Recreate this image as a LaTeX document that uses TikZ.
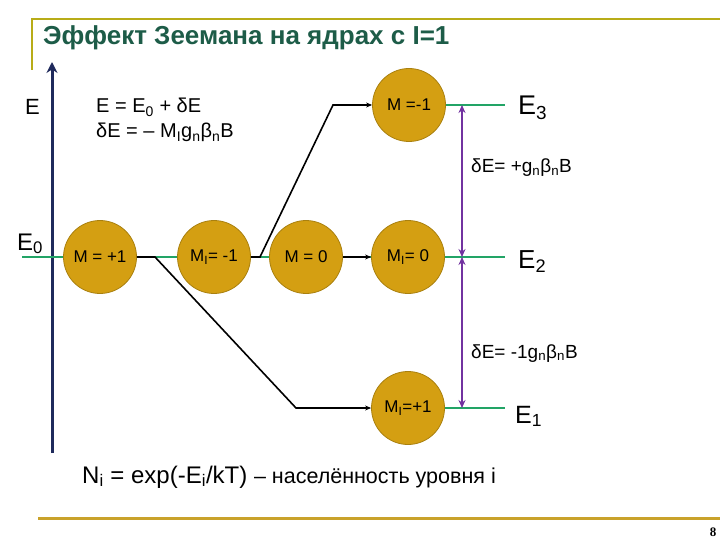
\documentclass[tikz,border=0pt]{standalone}
\usepackage{fontspec}
\setmainfont{Liberation Sans}
\newfontfamily\pgserif{Liberation Serif}
\usetikzlibrary{arrows.meta, positioning, calc}
\definecolor{ttgreen}{HTML}{1D5C48}
\definecolor{frolive}{HTML}{B8AC18}
\definecolor{axnavy}{HTML}{1F2A5C}
\definecolor{lvgreen}{HTML}{22A466}
\definecolor{spgold}{HTML}{D49F12}
\definecolor{spedge}{HTML}{A9800F}
\definecolor{dEpurple}{HTML}{7232A0}
\definecolor{ftgold}{HTML}{C9A22A}

\begin{document}
\begin{tikzpicture}[
  x=1pt, y=-1pt,
  >={Stealth[length=6pt, width=5pt]},
  spin/.style={circle, fill=spgold, draw=spedge, line width=0.8pt,
    minimum size=73pt, inner sep=0pt, font=\fontsize{17}{19}\selectfont},
  level/.style={lvgreen, line width=2.5pt},
  conn/.style={black, line width=1.6pt, ->},
  split/.style={dEpurple, line width=2pt,
    {Stealth[length=8pt, width=7pt]}-{Stealth[length=8pt, width=7pt]}},
  lbl/.style={anchor=base west, inner sep=0pt},
]

% Page: 720 x 540, y runs downward
\useasboundingbox (0,0) rectangle (720,540);

% Levels (y of the energy lines)
\pgfmathsetmacro{\ylo}{408}   % E1
\pgfmathsetmacro{\ymid}{257}  % E0 / E2
\pgfmathsetmacro{\yhi}{105}   % E3
\pgfmathsetmacro{\xsplit}{462} % purple arrows

% --- Title frame ---
\draw[frolive, line width=1.8pt] (32,70) -- (32,19) -- (720,19);
\node[lbl, font=\fontsize{26}{29}\selectfont\bfseries, text=ttgreen] (title)
  at (43,45) {Эффект Зеемана на ядрах с I=1};

% --- Energy axis ---
\coordinate (axbot) at (52,453);
\coordinate (axtop) at (52,62);
\draw[axnavy, line width=3pt, -{Stealth[length=11pt, width=11pt]}] (axbot) -- (axtop);
\node[lbl, font=\fontsize{22}{24}\selectfont] (lE) at (25,115) {E};
\node[lbl, font=\fontsize{24}{26}\selectfont] (lE0) at (17,250) {E\textsubscript{0}};

% --- Formulas ---
\node[lbl, font=\fontsize{20}{22}\selectfont] (feq1) at (96,113)
  {E = E\textsubscript{0} + δE};
\node[lbl, font=\fontsize{20}{22}\selectfont] (feq2) at (96,138)
  {δE = – M\textsubscript{I}g\textsubscript{n}β\textsubscript{n}B};

% --- Green level lines (under the circles) ---
\draw[level] (22,\ymid) -- (505,\ymid);
\draw[level] (430,\yhi) -- (505,\yhi);
\draw[level] (430,\ylo) -- (505,\ylo);

% --- Spin states ---
\node[spin] (mp1)  at (100,\ymid) {M = +1};
\node[spin] (mim1) at (214,\ymid) {M\textsubscript{I}= -1};
\node[spin] (m0)   at (306,\ymid) {M = 0};
\node[spin] (mi0)  at (408,\ymid) {M\textsubscript{I}= 0};
\node[spin] (mm1)  at (409,\yhi)  {M =-1};
\node[spin] (mip1) at (408,\ylo)  {M\textsubscript{I}=+1};

% --- Transitions ---
\coordinate (kdn0) at (155,\ymid);
\coordinate (kdn1) at (296,\ylo);
\coordinate (kup0) at (260,\ymid);
\coordinate (kup1) at (333,\yhi);
\draw[conn] (mp1.east) -- (kdn0) -- (kdn1) -- (mip1.west);
\draw[conn] (mim1.east) -- (kup0) -- (kup1) -- (mm1.west);
\draw[conn] (m0) -- (mi0);

% --- Splitting arrows ---
\coordinate (d3) at (\xsplit,\yhi);
\coordinate (d2) at (\xsplit,\ymid);
\coordinate (d1) at (\xsplit,\ylo);
\draw[split] (d2) -- (d3);
\draw[split] (d2) -- (d1);

% --- Level labels ---
\node[lbl, font=\fontsize{27}{30}\selectfont] (lE3) at (518,115) {E\textsubscript{3}};
\node[lbl, font=\fontsize{26}{30}\selectfont] (lE2) at (518,268) {E\textsubscript{2}};
\node[lbl, font=\fontsize{25}{30}\selectfont] (lE1) at (515,423) {E\textsubscript{1}};
\node[lbl, font=\fontsize{19}{21}\selectfont] (dEp) at (471,173)
  {δE= +g\textsubscript{n}β\textsubscript{n}B};
\node[lbl, font=\fontsize{19}{21}\selectfont] (dEm) at (471,358)
  {δE= -1g\textsubscript{n}β\textsubscript{n}B};

% --- Population ---
\node[lbl, font=\fontsize{24}{26}\selectfont] (popl) at (82,483)
  {N\textsubscript{i} = exp(-E\textsubscript{i}/kT)
   {\fontsize{21.5}{24}\selectfont – населённость уровня i}};

% --- Footer ---
\draw[ftgold, line width=3pt] (38,518) -- (720,518);
\node[anchor=center, font=\fontsize{13}{15}\selectfont\pgserif\bfseries] (pgno) at (713,532) {8};

\end{tikzpicture}
\end{document}
